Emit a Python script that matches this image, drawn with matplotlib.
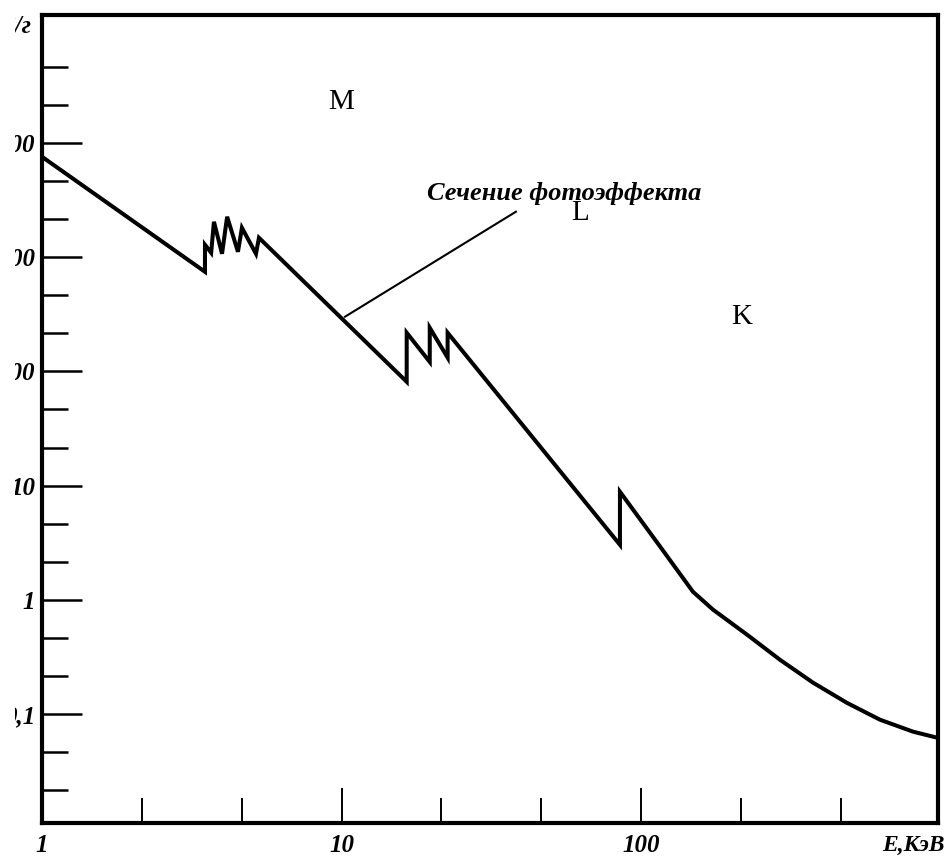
# -*- coding: utf-8 -*-
import numpy as np
import matplotlib.pyplot as plt
from matplotlib.ticker import FixedLocator, FixedFormatter, NullFormatter
from matplotlib.transforms import Bbox

# photoeffect cross-section (E in keV, sigma in cm^2/g)
energy = [1.0, 3.50, 3.50, 3.67, 3.75, 3.99, 4.15, 4.51, 4.65, 5.18, 5.30,
          16.5, 16.5, 19.7, 19.7, 22.6, 22.6, 85.0, 85.0, 116, 149, 174,
          226, 291, 375, 487, 628, 809, 973]
sigma = [7570, 745, 1284, 1093, 2042, 1071, 2259, 1115, 1808, 1071, 1479,
         81.1, 218, 121, 241, 132, 218, 3.03, 8.83, 2.9, 1.175, 0.818,
         0.494, 0.298, 0.188, 0.125, 0.089, 0.070, 0.062]

# absorption edge labels
shell_names = ['M', 'L', 'K']
shell_energy = [10.0, 62.6, 217]
shell_sigma = [22900, 2450, 301]

# leader line for the caption
leader_energy = [10.27, 38.2]
leader_sigma = [301, 2500]

x_major = [1, 10, 100]
x_labels = ['1', '10', '100']
y_major = [0.1, 1, 10, 100, 1000, 10000]
y_labels = ['0,1', '1', '10', '100', '1000', '10000']

W, H = 946, 856
fig = plt.figure(figsize=(W / 100, H / 100), dpi=100)
ax = fig.add_axes([42 / W, (H - 823) / H, (938 - 42) / W, (823 - 15) / H])

ax.plot(energy, sigma, color='black', lw=2.9, solid_joinstyle='miter',
        solid_capstyle='butt')
ax.plot(leader_energy, leader_sigma, color='black', lw=1.5)

ax.set_xscale('log')
ax.set_yscale('log')
ax.set_xlim(1, 980)
ax.set_ylim(0.0111, 1.32e5)

# ticks every third of a decade, pointing inwards
x_minor = [10 ** (k / 3) for k in range(1, 9) if k % 3]
y_minor = [10 ** (k / 3) for k in range(-5, 17) if k % 3]

ax.xaxis.set_major_locator(FixedLocator(x_major))
ax.xaxis.set_major_formatter(FixedFormatter(x_labels))
ax.xaxis.set_minor_locator(FixedLocator(x_minor))
ax.xaxis.set_minor_formatter(NullFormatter())
ax.yaxis.set_major_locator(FixedLocator(y_major))
ax.yaxis.set_major_formatter(FixedFormatter(y_labels))
ax.yaxis.set_minor_locator(FixedLocator(y_minor))
ax.yaxis.set_minor_formatter(NullFormatter())

ax.tick_params(axis='x', which='major', direction='in', length=25, width=1.4, pad=8)
ax.tick_params(axis='x', which='minor', direction='in', length=18, width=1.4)
ax.tick_params(axis='y', which='major', direction='in', length=29, width=1.8, pad=5)
ax.tick_params(axis='y', which='minor', direction='in', length=19, width=1.8)

tick_font = dict(family='Liberation Serif', weight='bold', style='italic', size=18)
for lab in ax.get_xticklabels() + ax.get_yticklabels():
    lab.set_fontproperties(tick_font)

# the scan is cut about 15 px from the left edge, so the y labels are cropped
crop = Bbox.from_extents(15, 0, W, H)
for tick in ax.yaxis.get_major_ticks():
    tick.label1.set_clip_box(crop)
    tick.label1.set_clip_on(True)

for side in ax.spines.values():
    side.set_linewidth(3.0)

for name, e, s in zip(shell_names, shell_energy, shell_sigma):
    ax.text(e, s, name, ha='center', va='center', family='Liberation Serif', size=21)

ax.text(19.3, 3180, 'Сечение фотоэффекта', ha='left', va='baseline',
        family='Liberation Serif', weight='bold', style='italic', size=19)

# axis captions
fig.text(945 / W, 1 - 835 / H, 'E,КэВ', ha='right', va='top',
         family='Liberation Serif', weight='bold', style='italic', size=17)
ylab = fig.text(31 / W, 1 - 14 / H, 'σ, см²/г', ha='right', va='top',
                family='Liberation Serif', weight='bold', style='italic', size=18)
ylab.set_clip_box(crop)
ylab.set_clip_on(True)

fig.savefig('out.png', dpi=100)
